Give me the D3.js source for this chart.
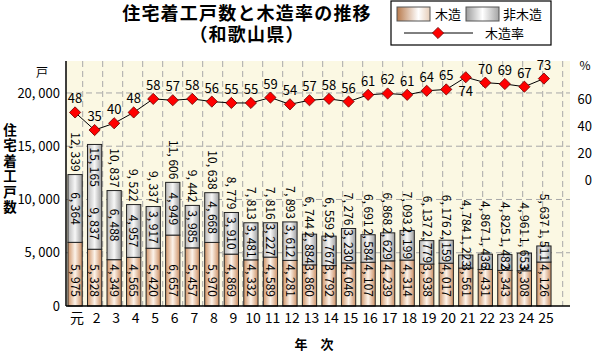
<!DOCTYPE html>
<html>
<head>
<meta charset="utf-8">
<script src="https://cdn.jsdelivr.net/npm/d3@7"></script>
<style>
  body { margin: 0; background: #fff; }
  svg { display: block; }
  text { font-family: "Liberation Sans Narrow", "Noto Sans CJK JP", sans-serif; fill: #000; }
  .jp { font-family: "Noto Sans CJK JP", sans-serif; }
  .title { font-family: "Liberation Sans", "Noto Sans CJK JP", sans-serif; }
</style>
</head>
<body>
<div id="content"></div>
<script>
var width = 593;
var height = 353;

// 年次（平成）
var years = ['元', '2', '3', '4', '5', '6', '7', '8', '9', '10', '11', '12', '13',
             '14', '15', '16', '17', '18', '19', '20', '21', '22', '23', '24', '25'];

// 木造（戸）
var wood = [5975, 5328, 4349, 4565, 5420, 6657, 5457, 5970, 4869, 4332, 4589, 4281, 3860,
            3792, 4046, 4107, 4239, 4314, 3938, 4017, 3561, 3431, 3343, 3308, 4126];

// 非木造（戸）
var nonWood = [6364, 9837, 6488, 4957, 3917, 4949, 3985, 4668, 3910, 3481, 3227, 3612, 2884,
               2767, 3230, 2584, 2629, 2779, 2199, 2159, 1223, 1436, 1482, 1653, 1511];

// 非木造の数値ラベル（元の図の表記どおり。18・19年は入れ替わって印字されている）
var nonWoodText = [6364, 9837, 6488, 4957, 3917, 4949, 3985, 4668, 3910, 3481, 3227, 3612, 2884,
                   2767, 3230, 2584, 2629, 2199, 2779, 2159, 1223, 1436, 1482, 1653, 1511];

// 木造率（%）
var woodRate = [48, 35, 40, 48, 58, 57, 58, 56, 55, 55, 59, 54, 57,
                58, 56, 61, 62, 61, 64, 65, 74, 70, 69, 67, 73];

var leftTicks = [0, 5000, 10000, 15000, 20000];
var rightTicks = [0, 20, 40, 60];
var rateBelow = ['21'];

var plot = {left: 66, right: 570, top: 61, bottom: 306};

var svg = d3.select('div#content').append('svg')
    .attr('width', width)
    .attr('height', height);

var defs = svg.append('defs');
function gradient(id, stops){
    var g = defs.append('linearGradient').attr('id', id)
        .attr('x1', '0%').attr('x2', '100%').attr('y1', '0%').attr('y2', '0%');
    stops.forEach(function(s){
        g.append('stop').attr('offset', s[0]).attr('stop-color', s[1]);
    });
}
gradient('gWood', [['0%', '#CF9468'], ['50%', '#FCF3EA'], ['100%', '#CC8F63']]);
gradient('gGray', [['0%', '#B8B8B8'], ['50%', '#F7F7F7'], ['100%', '#9E9E9E']]);
gradient('gWoodLeg', [['0%', '#B87A4C'], ['65%', '#FFFFFF'], ['100%', '#E6CDB8']]);
gradient('gGrayLeg', [['0%', '#9C9C9C'], ['50%', '#FFFFFF'], ['100%', '#A4A4A4']]);

var fmt = function(v){ return d3.format(',')(v).replace(',', ', '); };

var x = d3.scaleBand()
    .domain(years)
    .range([plot.left, 553])
    .paddingInner(0.27)
    .paddingOuter(0.1);

var gridX = d3.scaleBand()
    .domain(years)
    .range([62.7, 562.7]);

var y = d3.scaleLinear()
    .domain([0, 23000])
    .range([plot.bottom, plot.top]);

var r = d3.scaleLinear()
    .domain([-95, 86])
    .range([plot.bottom, plot.top]);

// plot background
svg.append('rect')
    .attr('x', plot.left).attr('y', plot.top)
    .attr('width', plot.right - plot.left).attr('height', plot.bottom - plot.top)
    .attr('fill', '#FBF8E3');

// grid
var grid = svg.append('g')
    .attr('stroke', '#A8A8A8')
    .attr('stroke-dasharray', '6,4');
grid.selectAll('line.v')
    .data(years).enter()
    .append('line')
        .attr('class', 'v')
        .attr('x1', function(d){ return gridX(d) + gridX.step(); })
        .attr('x2', function(d){ return gridX(d) + gridX.step(); })
        .attr('y1', plot.top)
        .attr('y2', plot.bottom);
grid.selectAll('line.h')
    .data(leftTicks.slice(1)).enter()
    .append('line')
        .attr('class', 'h')
        .attr('x1', plot.left)
        .attr('x2', plot.right)
        .attr('y1', function(d){ return y(d); })
        .attr('y2', function(d){ return y(d); });

// bars
var bars = svg.append('g').attr('stroke', '#222').attr('stroke-width', 1);
bars.selectAll('rect.wood')
    .data(years).enter()
    .append('rect')
        .attr('class', 'wood')
        .attr('x', function(d){ return x(d); })
        .attr('y', function(d, i){ return y(wood[i]); })
        .attr('width', x.bandwidth())
        .attr('height', function(d, i){ return y(0) - y(wood[i]); })
        .attr('fill', 'url(#gWood)');
bars.selectAll('rect.nonwood')
    .data(years).enter()
    .append('rect')
        .attr('class', 'nonwood')
        .attr('x', function(d){ return x(d); })
        .attr('y', function(d, i){ return y(wood[i] + nonWood[i]); })
        .attr('width', x.bandwidth())
        .attr('height', function(d, i){ return y(wood[i]) - y(wood[i] + nonWood[i]); })
        .attr('fill', 'url(#gGray)');

// rate points (needed for label placement)
var pts = years.map(function(d, i){ return [x(d) + x.bandwidth() / 2, r(woodRate[i])]; });

// bar labels (vertical, centred on cy)
var lbl = svg.append('g').attr('font-size', 12);
function vText(txt){
    return lbl.append('text')
        .attr('text-anchor', 'middle')
        .attr('dy', '0.35em')
        .text(txt);
}
function moveTo(t, cx, cy){
    t.attr('transform', 'translate(' + cx + ',' + cy + ') rotate(90)');
}
years.forEach(function(d, i){
    var cx = x(d) + x.bandwidth() / 2;
    var yWood = y(wood[i]);
    var yTop = y(wood[i] + nonWood[i]);

    // 木造: inside base
    var w = vText(fmt(wood[i]));
    var wLen = w.node().getComputedTextLength();
    moveTo(w, cx, y(0) - 9 - wLen / 2);

    // 非木造: centred, but kept above the wood segment
    var nw = vText(fmt(nonWoodText[i]));
    var nwLen = nw.node().getComputedTextLength();
    var nwMid = Math.min((yWood + yTop) / 2, yWood - 1 - nwLen / 2);
    moveTo(nw, cx, nwMid);

    // 合計: above the bar
    var tot = vText(fmt(wood[i] + nonWood[i]));
    var totLen = tot.node().getComputedTextLength();
    var end = Math.min(yTop - 3, nwMid - nwLen / 2 - 2);
    if (end - totLen < pts[i][1] + 8) {
        // no room above the bar: put the total inside the top of the bar
        moveTo(tot, cx, yTop + 3 + totLen / 2);
        moveTo(nw, cx, yWood - 9 - nwLen / 2);
    } else {
        moveTo(tot, cx, end - totLen / 2);
    }
});

// axes lines
svg.append('line')
    .attr('x1', plot.left).attr('x2', plot.left)
    .attr('y1', plot.top).attr('y2', plot.bottom)
    .attr('stroke', '#000').attr('stroke-width', 1.5);
svg.append('line')
    .attr('x1', plot.left).attr('x2', plot.right)
    .attr('y1', plot.bottom).attr('y2', plot.bottom)
    .attr('stroke', '#000').attr('stroke-width', 1.5);

var leftAxis = svg.append('g')
    .attr('transform', 'translate(' + plot.left + ',0)')
    .call(d3.axisLeft(y).tickValues(leftTicks).tickSize(0).tickPadding(6).tickFormat(fmt));
leftAxis.select('.domain').remove();
leftAxis.selectAll('text').attr('font-size', 13).style('font-family', null);

var rightAxis = svg.append('g')
    .attr('transform', 'translate(592,3)')
    .call(d3.axisRight(r).tickValues(rightTicks).tickSize(0).tickPadding(0));
rightAxis.select('.domain').remove();
rightAxis.selectAll('text').attr('font-size', 13).attr('text-anchor', 'end').style('font-family', null);

var bottomAxis = svg.append('g')
    .attr('transform', 'translate(2,' + plot.bottom + ')')
    .call(d3.axisBottom(x).tickSize(0).tickPadding(7));
bottomAxis.select('.domain').remove();
bottomAxis.selectAll('text').attr('font-size', 14).style('font-family', null);

// rate line
svg.append('path')
    .attr('d', d3.line()(pts))
    .attr('fill', 'none')
    .attr('stroke', '#000')
    .attr('stroke-width', 1);
var diamond = d3.symbol().type(d3.symbolDiamond2).size(80);
svg.selectAll('path.pt')
    .data(pts).enter()
    .append('path')
        .attr('class', 'pt')
        .attr('d', diamond)
        .attr('transform', function(d){ return 'translate(' + d[0] + ',' + d[1] + ')'; })
        .attr('fill', '#FF0000')
        .attr('stroke', '#600')
        .attr('stroke-width', 0.8);
svg.selectAll('text.rate')
    .data(pts).enter()
    .append('text')
        .attr('class', 'rate')
        .attr('x', function(d){ return d[0]; })
        .attr('y', function(d, i){ return rateBelow.indexOf(years[i]) >= 0 ? d[1] + 19 : d[1] - 9; })
        .attr('text-anchor', 'middle')
        .attr('font-size', 13)
        .text(function(d, i){ return woodRate[i]; });

// units & titles
svg.append('text').attr('class', 'jp').attr('x', 42).attr('y', 77)
    .attr('text-anchor', 'middle').attr('font-size', 12).text('戸');
svg.append('text').attr('x', 585).attr('y', 70)
    .attr('text-anchor', 'middle').attr('font-size', 12).text('%');

svg.append('text').attr('class', 'title')
    .attr('x', 247).attr('y', 20)
    .attr('text-anchor', 'middle').attr('font-size', 18).attr('font-weight', 'bold')
    .attr('letter-spacing', 1.2)
    .text('住宅着工戸数と木造率の推移');
svg.append('text').attr('class', 'title')
    .attr('x', 247).attr('y', 40.5)
    .attr('text-anchor', 'middle').attr('font-size', 18).attr('font-weight', 'bold')
    .attr('letter-spacing', 1.2)
    .text('（和歌山県）');

svg.append('text')
    .attr('class', 'jp')
    .attr('x', 10)
    .attr('y', 123)
    .attr('font-size', 13.5)
    .attr('font-weight', 'bold')
    .attr('letter-spacing', 2)
    .style('writing-mode', 'vertical-rl')
    .text('住宅着工戸数');

svg.append('text').attr('class', 'jp').attr('x', 314).attr('y', 349)
    .attr('text-anchor', 'middle').attr('font-size', 13).attr('font-weight', 'bold')
    .text('年　次');

// legend
var lg = svg.append('g');
lg.append('rect')
    .attr('x', 391).attr('y', 1).attr('width', 160).attr('height', 44)
    .attr('fill', '#fff').attr('stroke', '#000').attr('stroke-width', 1.2);
lg.append('rect')
    .attr('x', 397).attr('y', 7).attr('width', 33).attr('height', 14)
    .attr('fill', 'url(#gWoodLeg)').attr('stroke', '#555');
lg.append('text').attr('class', 'jp').attr('x', 435).attr('y', 19)
    .attr('font-size', 13).text('木造');
lg.append('rect')
    .attr('x', 466).attr('y', 7).attr('width', 33).attr('height', 14)
    .attr('fill', 'url(#gGrayLeg)').attr('stroke', '#555');
lg.append('text').attr('class', 'jp').attr('x', 503).attr('y', 19)
    .attr('font-size', 13).text('非木造');
lg.append('line')
    .attr('x1', 404).attr('x2', 473).attr('y1', 33).attr('y2', 33)
    .attr('stroke', '#000');
lg.append('path')
    .attr('d', diamond)
    .attr('transform', 'translate(438,33)')
    .attr('fill', '#FF0000').attr('stroke', '#600').attr('stroke-width', 0.8);
lg.append('text').attr('class', 'jp').attr('x', 485).attr('y', 38)
    .attr('font-size', 13).text('木造率');
</script>
</body>
</html>
